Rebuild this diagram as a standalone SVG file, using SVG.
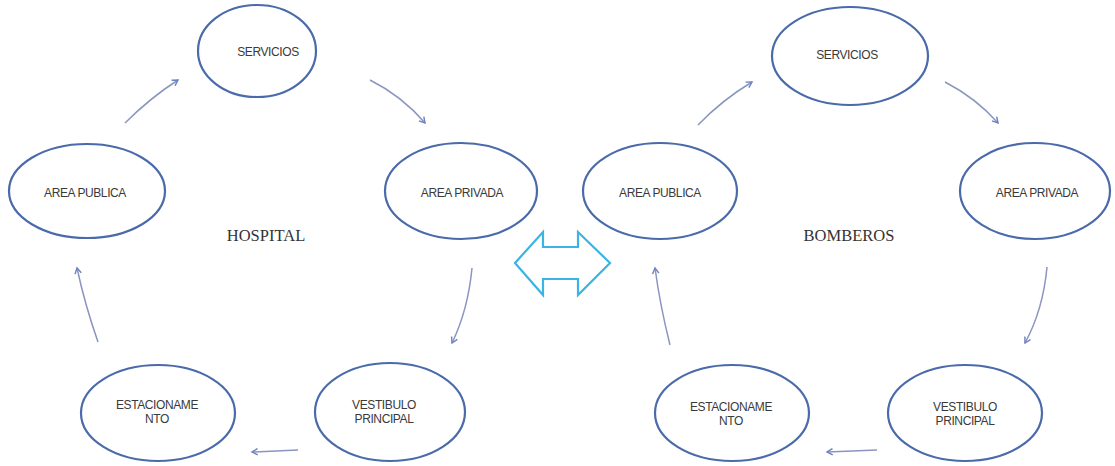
<svg xmlns="http://www.w3.org/2000/svg" width="1115" height="466" viewBox="0 0 1115 466">
  <style>
    .node ellipse { fill: #ffffff; stroke: #4a6aaa; stroke-width: 2.2; }
    .node text { font-family: "Liberation Sans", Arial, sans-serif; font-size: 12px; fill: #3a3a3a; text-anchor: middle; letter-spacing: -0.4px; }
    .title { font-family: "Liberation Serif", "Times New Roman", serif; font-size: 16.5px; fill: #333333; text-anchor: middle; }
    .flow path { fill: none; stroke: #8a95c0; stroke-width: 1.5; marker-end: url(#head); }
  </style>
  <defs>
    <marker id="head" viewBox="0 0 10 10" refX="8" refY="5" markerWidth="8" markerHeight="8" markerUnits="userSpaceOnUse" orient="auto">
      <path d="M1,1 L8,5 L1,9" fill="none" stroke="#6f82c0" stroke-width="1.8"/>
    </marker>
  </defs>
  <rect width="1115" height="466" fill="#ffffff"/>

  <!-- HOSPITAL cycle -->
  <g id="h-servicios" class="node">
    <ellipse cx="257" cy="51" rx="59" ry="46"/>
    <text x="268" y="56">SERVICIOS</text>
  </g>
  <g id="h-area-publica" class="node">
    <ellipse cx="87" cy="191" rx="78" ry="47"/>
    <text x="85" y="197">AREA PUBLICA</text>
  </g>
  <g id="h-area-privada" class="node">
    <ellipse cx="461" cy="191" rx="76" ry="48"/>
    <text x="462" y="197">AREA PRIVADA</text>
  </g>
  <g id="h-estacionamiento" class="node">
    <ellipse cx="158" cy="413" rx="77" ry="48"/>
    <text x="157" y="409">ESTACIONAME</text>
    <text x="157" y="423">NTO</text>
  </g>
  <g id="h-vestibulo" class="node">
    <ellipse cx="390" cy="412" rx="75" ry="49"/>
    <text x="384" y="409">VESTIBULO</text>
    <text x="384" y="423">PRINCIPAL</text>
  </g>
  <text id="hospital" class="title" x="266" y="241">HOSPITAL</text>

  <!-- BOMBEROS cycle -->
  <g id="b-servicios" class="node">
    <ellipse cx="850" cy="56" rx="78" ry="49"/>
    <text x="847" y="59">SERVICIOS</text>
  </g>
  <g id="b-area-publica" class="node">
    <ellipse cx="660" cy="191" rx="77" ry="48"/>
    <text x="660" y="197">AREA PUBLICA</text>
  </g>
  <g id="b-area-privada" class="node">
    <ellipse cx="1035" cy="191" rx="75" ry="48"/>
    <text x="1037" y="197">AREA PRIVADA</text>
  </g>
  <g id="b-estacionamiento" class="node">
    <ellipse cx="732" cy="413" rx="77" ry="48"/>
    <text x="731" y="411">ESTACIONAME</text>
    <text x="731" y="425">NTO</text>
  </g>
  <g id="b-vestibulo" class="node">
    <ellipse cx="965" cy="413" rx="77" ry="48"/>
    <text x="965" y="411">VESTIBULO</text>
    <text x="965" y="425">PRINCIPAL</text>
  </g>
  <text id="bomberos" class="title" x="849" y="241">BOMBEROS</text>

  <!-- two-way link between the two programs -->
  <g id="link">
    <polygon points="515,263 543,232 543,247 578,247 578,232 610,263 578,295 578,279 543,279 543,295" fill="#ffffff" stroke="#3ab4e4" stroke-width="2.2" stroke-linejoin="miter"/>
  </g>

  <!-- connectors -->
  <g id="connectors" class="flow">
    <path d="M125,123 Q150,98 178,80"/>
    <path d="M370,80 Q402,96 425,123"/>
    <path d="M472,268 Q468,310 452,343"/>
    <path d="M298,450 L252,452"/>
    <path d="M98,342 Q85,305 77,268"/>

    <path d="M698,125 Q722,100 752,82"/>
    <path d="M945,82 Q976,98 998,123"/>
    <path d="M1047,267 Q1043,310 1025,343"/>
    <path d="M877,450 L827,452"/>
    <path d="M670,345 Q660,305 655,268"/>
  </g>
</svg>
